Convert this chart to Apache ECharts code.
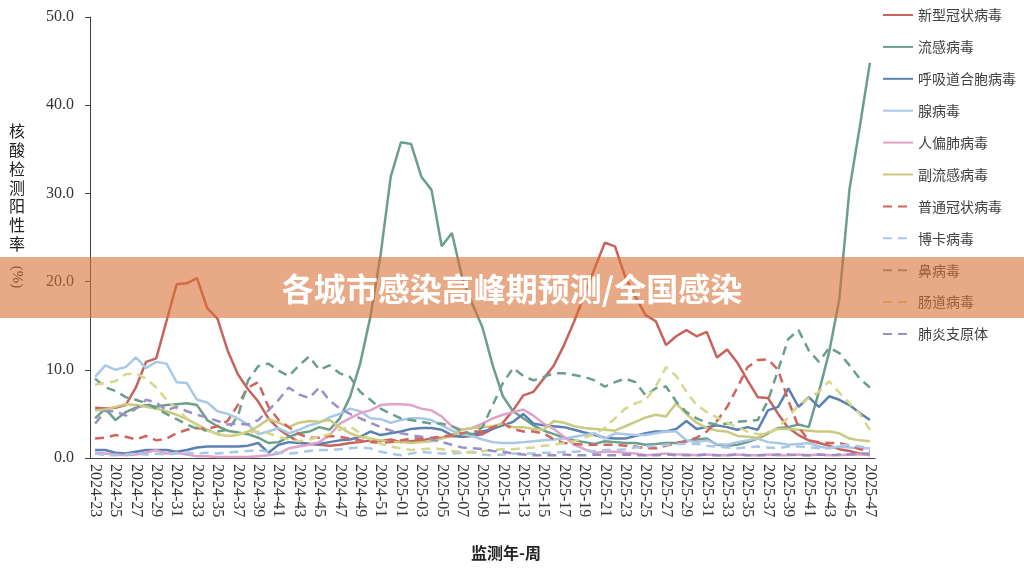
<!DOCTYPE html>
<html>
<head>
	<meta charset="UTF-8">
	<title>各城市感染高峰期预测/全国感染</title>
	<style>
		html, body { margin: 0; padding: 0; background: #fff; }
		#chart { width: 1024px; height: 576px; }
	</style>
</head>
<body>
	<div id="chart"></div>
</body>
<script src="https://cdn.jsdelivr.net/npm/echarts@6/dist/echarts.min.js"></script>
<script>
// 监测周
var weeks = [
    '2024-23','2024-24','2024-25','2024-26','2024-27','2024-28','2024-29','2024-30','2024-31','2024-32',
    '2024-33','2024-34','2024-35','2024-36','2024-37','2024-38','2024-39','2024-40','2024-41','2024-42',
    '2024-43','2024-44','2024-45','2024-46','2024-47','2024-48','2024-49','2024-50','2024-51','2024-52',
    '2025-01','2025-02','2025-03','2025-04','2025-05','2025-06','2025-07','2025-08','2025-09','2025-10',
    '2025-11','2025-12','2025-13','2025-14','2025-15','2025-16','2025-17','2025-18','2025-19','2025-20',
    '2025-21','2025-22','2025-23','2025-24','2025-25','2025-26','2025-27','2025-28','2025-29','2025-30',
    '2025-31','2025-32','2025-33','2025-34','2025-35','2025-36','2025-37','2025-38','2025-39','2025-40',
    '2025-41','2025-42','2025-43','2025-44','2025-45','2025-46','2025-47'
];

// 各病原体阳性率 (%)
var covid = [5.7,5.6,5.7,6.0,8.0,10.9,11.3,15.5,19.7,19.8,
    20.4,17.0,15.8,12.2,9.5,7.8,6.4,4.5,3.3,2.5,
    1.8,1.6,1.5,1.4,1.5,1.7,1.8,2.0,1.9,2.1,
    1.8,1.9,2.0,2.2,2.3,2.5,2.4,2.5,2.7,3.3,
    4.0,5.4,7.1,7.5,9.0,10.5,12.8,15.5,18.5,21.5,
    24.4,24.0,20.5,18.3,16.2,15.5,12.8,13.8,14.5,13.8,
    14.3,11.4,12.3,10.8,8.8,6.9,6.8,5.0,3.4,2.6,
    2.0,1.7,1.4,1.0,0.8,0.5,0.3];
var flu = [4.5,5.6,4.3,5.2,5.7,6.0,5.8,6.0,6.1,6.2,
    6.0,4.3,3.6,3.1,2.9,2.7,2.3,1.7,1.8,2.4,
    2.8,3.0,3.5,3.2,4.5,6.9,10.7,16.0,23.0,31.9,
    35.8,35.6,31.9,30.4,24.0,25.5,20.5,17.5,14.8,10.5,
    7.0,5.3,4.5,3.7,3.1,2.7,2.3,2.0,1.8,1.6,
    1.9,1.8,1.7,1.7,1.5,1.6,1.7,1.7,1.9,2.1,
    2.2,1.5,1.4,1.5,1.8,2.2,2.8,3.4,3.5,3.8,
    3.5,7.5,12.0,18.0,30.5,37.5,44.8];
var rsv = [0.9,0.9,0.6,0.5,0.7,0.9,0.9,0.9,0.7,0.9,
    1.2,1.3,1.3,1.3,1.3,1.4,1.7,0.6,1.5,1.8,
    1.7,1.6,1.6,1.8,2.0,2.1,2.4,3.0,2.6,2.8,
    3.0,3.3,3.4,3.4,3.2,2.6,2.4,2.6,3.0,3.3,
    3.7,4.1,5.0,3.9,3.7,3.6,3.5,3.2,2.9,2.6,
    2.3,2.2,2.2,2.5,2.8,3.0,3.0,3.3,4.2,3.3,
    3.5,3.7,3.5,3.2,3.5,3.2,5.4,5.8,7.9,5.8,
    6.9,5.8,7.0,6.6,6.0,5.1,4.3];
var adeno = [9.2,10.5,10.0,10.3,11.4,10.2,10.9,10.7,8.6,8.5,
    6.6,6.3,5.3,5.0,4.5,3.8,2.7,3.0,3.4,2.8,
    3.2,3.7,4.0,4.6,5.0,5.6,5.3,4.5,4.4,4.0,
    4.3,4.5,4.5,4.3,3.7,3.1,2.7,2.5,2.1,1.8,
    1.7,1.7,1.8,1.9,2.0,2.1,2.2,2.4,2.6,2.8,
    2.2,2.8,2.7,2.6,2.6,2.8,3.0,3.0,2.0,1.8,
    2.0,1.6,1.5,1.8,2.0,2.2,1.8,1.7,1.5,1.6,
    1.7,1.3,1.1,1.3,1.2,1.1,1.1];
var hmpv = [0.6,0.5,0.4,0.3,0.4,0.6,0.9,0.5,0.6,0.4,
    0.2,0.2,0.1,0.1,0.1,0.1,0.2,0.3,0.5,1.1,
    1.3,1.5,1.8,2.6,3.9,4.5,5.1,5.4,6.0,6.1,
    6.1,6.0,5.6,5.4,4.7,3.6,3.2,3.4,3.9,4.5,
    4.9,5.2,5.5,4.8,3.9,3.3,2.4,1.5,1.0,0.6,
    0.7,0.7,0.6,0.5,0.3,0.4,0.5,0.4,0.4,0.3,
    0.4,0.3,0.3,0.4,0.3,0.3,0.4,0.3,0.3,0.4,
    0.3,0.4,0.3,0.3,0.4,0.4,0.4];
var piv = [5.4,5.5,5.8,6.1,6.0,5.8,5.6,5.3,4.9,4.4,
    3.8,3.2,2.7,2.5,2.6,3.0,3.6,4.4,4.0,3.5,
    4.0,4.2,4.1,4.3,3.5,2.8,2.4,2.2,2.0,1.8,
    1.8,1.7,1.8,1.9,2.2,2.6,3.2,3.4,3.5,3.6,
    3.9,3.5,3.5,3.3,3.2,4.2,4.0,3.6,3.4,3.3,
    3.2,3.1,3.6,4.1,4.6,4.9,4.7,6.2,5.0,4.0,
    3.4,3.1,3.0,2.5,2.4,2.3,2.9,3.3,3.3,3.2,
    3.1,3.0,3.0,2.8,2.2,2.0,1.9];
var hcov = [2.2,2.3,2.6,2.4,2.1,2.5,2.0,2.2,2.8,3.2,
    3.4,3.3,3.6,4.2,6.0,8.0,8.6,5.8,4.3,3.5,
    2.7,2.3,2.3,2.5,2.4,2.2,2.0,1.8,1.7,1.8,
    2.0,2.2,2.2,2.3,2.4,2.6,2.8,3.0,3.0,3.5,
    3.9,3.3,3.0,3.0,2.8,2.1,1.7,1.6,1.5,1.5,
    1.5,1.5,1.4,1.3,1.1,1.1,1.4,1.7,1.9,2.3,
    3.0,4.2,5.8,8.0,10.3,11.1,11.2,10.0,6.5,3.5,
    2.0,1.8,1.7,1.7,1.4,1.0,0.8];
var boca = [0.5,0.3,0.3,0.4,0.5,0.4,0.5,0.4,0.5,0.6,
    0.5,0.6,0.5,0.6,0.7,0.8,0.9,0.7,0.6,0.5,
    0.6,0.8,0.9,0.9,1.0,1.1,1.2,1.1,0.7,0.5,
    0.3,0.5,0.7,0.6,0.5,0.5,0.6,0.7,0.4,0.3,
    0.4,0.5,0.5,0.5,0.6,0.6,0.7,0.7,0.8,0.8,
    0.9,0.9,1.0,1.2,1.3,1.4,1.5,1.6,1.6,1.6,
    1.4,1.3,1.2,1.1,1.2,1.3,1.2,1.1,1.3,1.3,
    1.2,1.1,1.1,1.4,1.5,1.3,1.1];
var rhino = [9.0,8.0,7.6,6.9,6.6,6.2,5.6,5.0,4.4,3.8,
    3.3,3.1,3.0,3.2,4.7,8.8,10.4,10.7,9.9,9.3,
    10.5,11.5,10.0,10.5,9.6,9.2,7.5,6.6,5.6,5.0,
    4.5,4.3,4.1,3.9,3.9,3.6,3.0,2.7,3.5,6.0,
    8.5,10.2,9.3,8.8,9.2,9.6,9.6,9.4,9.2,8.8,
    8.1,8.6,9.0,8.6,7.1,7.9,8.1,6.4,5.2,4.5,
    4.0,3.8,3.9,4.1,4.2,4.3,6.5,10.0,13.5,14.5,
    12.2,10.9,12.5,11.9,10.5,9.0,8.0];
var entero = [8.3,8.5,8.7,9.5,9.6,9.0,8.0,6.6,5.6,4.5,
    3.7,3.1,2.7,2.5,2.7,2.9,3.0,2.8,2.4,2.1,
    1.9,2.1,2.4,2.7,3.2,3.6,2.8,2.1,1.6,1.3,
    1.1,0.9,1.0,1.1,1.0,0.8,0.7,0.6,0.8,0.9,
    1.0,1.0,1.1,1.2,1.4,1.5,1.7,1.9,2.3,2.7,
    3.4,4.5,5.6,6.2,6.6,8.1,10.3,9.3,7.5,6.0,
    5.2,4.6,4.0,3.5,3.0,2.7,2.8,3.5,4.6,6.0,
    6.8,7.5,8.7,7.4,6.2,5.0,3.2];
var mp = [3.9,5.3,5.3,4.8,5.6,6.6,6.3,5.4,5.8,5.3,
    4.9,4.6,4.2,3.8,3.9,3.8,4.3,5.4,6.6,8.0,
    7.2,6.8,8.0,6.5,5.6,5.0,4.5,4.0,3.5,3.1,
    2.8,2.6,2.4,2.1,1.8,1.5,1.2,1.1,1.0,0.8,
    0.7,0.5,0.4,0.3,0.3,0.3,0.4,0.3,0.3,0.4,
    0.3,0.3,0.4,0.3,0.3,0.3,0.4,0.3,0.3,0.3,
    0.4,0.3,0.3,0.4,0.3,0.3,0.3,0.4,0.4,0.3,
    0.3,0.4,0.3,0.4,0.4,0.5,0.5];

var chart = echarts.init(document.getElementById('chart'));

var serif = '"Liberation Serif", "Times New Roman", serif';
var cjk = '"Noto Sans CJK SC", sans-serif';

// 名称, 数据, 颜色, 是否虚线
var lines = [
    ['新型冠状病毒', covid, '#c8625c', false],
    ['流感病毒', flu, '#6c9f89', false],
    ['呼吸道合胞病毒', rsv, '#5b80b2', false],
    ['腺病毒', adeno, '#a9c7e7', false],
    ['人偏肺病毒', hmpv, '#e0a2c9', false],
    ['副流感病毒', piv, '#c9ca7f', false],
    ['普通冠状病毒', hcov, '#d0645f', true],
    ['博卡病毒', boca, '#a9c7e7', true],
    ['鼻病毒', rhino, '#6c9f89', true],
    ['肠道病毒', entero, '#d6d68c', true],
    ['肺炎支原体', mp, '#9d8fc6', true]
];

var series = lines.map(function (l) {
    return {
        name: l[0],
        type: 'line',
        data: l[1],
        symbol: 'none',
        smooth: false,
        color: l[2],
        lineStyle: {
            color: l[2],
            width: 2.5,
            type: l[3] ? [9, 6] : 'solid'
        }
    };
});

var option = {
    animation: false,
    backgroundColor: '#fff',
    grid: {
        left: 90,
        right: 149,
        top: 17,
        bottom: 118
    },
    legend: {
        orient: 'vertical',
        left: 877,
        top: 3,
        itemWidth: 30,
        itemHeight: 14,
        itemGap: 17.9,
        // 只显示线段, 不显示圆点
        itemStyle: { opacity: 0 },
        textStyle: {
            fontFamily: cjk,
            fontSize: 14,
            color: '#404040'
        },
        data: lines.map(function (l) { return l[0]; })
    },
    xAxis: {
        type: 'category',
        data: weeks,
        boundaryGap: true,
        axisLine: { lineStyle: { color: '#404040', width: 1 } },
        axisTick: { interval: 0, length: 5, lineStyle: { color: '#404040' } },
        axisLabel: {
            interval: 1,
            rotate: -90,
            margin: 6,
            fontFamily: serif,
            fontSize: 16,
            color: '#333'
        }
    },
    yAxis: {
        type: 'value',
        min: 0,
        max: 50,
        interval: 10,
        axisLine: { show: true, lineStyle: { color: '#404040', width: 1 } },
        axisTick: { show: true, length: 5, lineStyle: { color: '#404040' } },
        splitLine: { show: false },
        axisLabel: {
            margin: 16,
            fontFamily: serif,
            fontSize: 16,
            color: '#333',
            formatter: function (v) { return v.toFixed(1); }
        }
    },
    graphic: [
        {
            // y 轴标题
            type: 'text',
            left: 9,
            top: 122,
            style: {
                text: '核\n酸\n检\n测\n阳\n性\n率',
                fontFamily: cjk,
                fontSize: 16,
                lineHeight: 18.7,
                fill: '#222'
            }
        },
        {
            type: 'text',
            x: 17,
            y: 277,
            rotation: -Math.PI / 2,
            style: {
                text: '(%)',
                fontFamily: serif,
                fontSize: 15,
                fill: '#222',
                align: 'center',
                verticalAlign: 'middle'
            }
        },
        {
            // x 轴标题
            type: 'text',
            x: 506,
            y: 553,
            style: {
                text: '监测年-周',
                fontFamily: cjk,
                fontSize: 16,
                fontWeight: 'bold',
                fill: '#222',
                align: 'center',
                verticalAlign: 'middle'
            }
        },
        {
            // 标题横幅
            type: 'rect',
            z: 100,
            shape: { x: 0, y: 257, width: 1024, height: 61 },
            style: { fill: 'rgba(217,112,53,0.6)' }
        },
        {
            type: 'text',
            z: 101,
            x: 512,
            y: 289,
            style: {
                text: '各城市感染高峰期预测/全国感染',
                fontFamily: cjk,
                fontSize: 32,
                fontWeight: 'bold',
                fill: '#fff',
                align: 'center',
                verticalAlign: 'middle'
            }
        }
    ],
    series: series
};

chart.setOption(option);
</script>
</html>
